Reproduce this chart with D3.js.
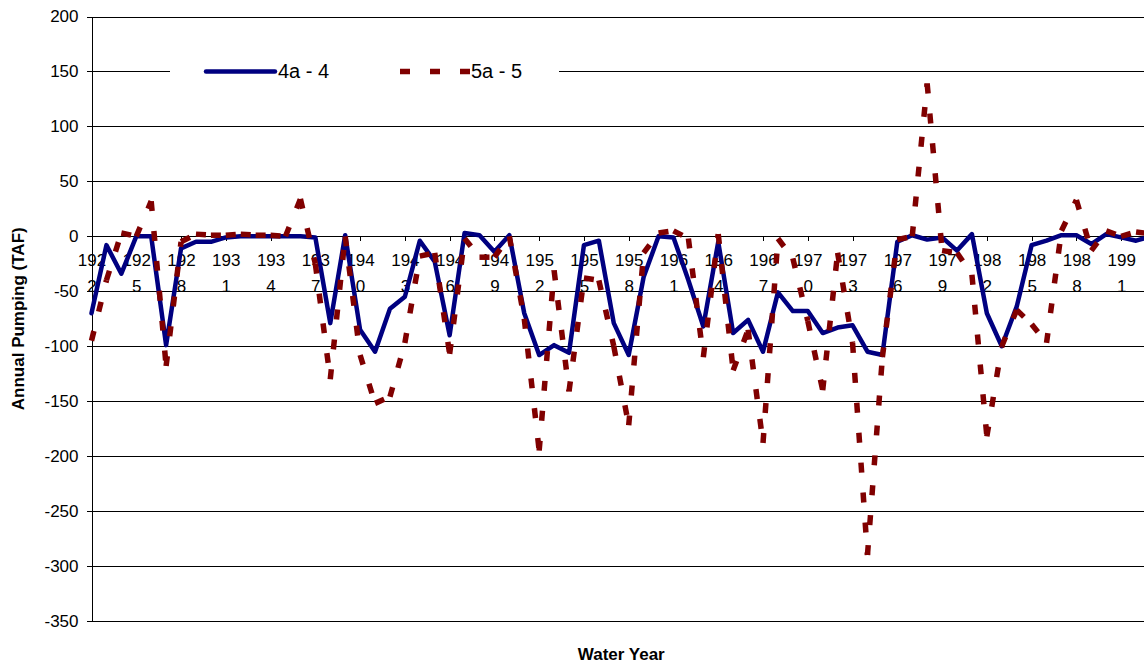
<!DOCTYPE html>
<html>
<head>
<meta charset="utf-8">
<script src="https://cdnjs.cloudflare.com/ajax/libs/d3/7.8.5/d3.min.js"></script>
<style>
  html, body { margin: 0; padding: 0; background: #fff; overflow: hidden; }
  svg { display: block; }
  text { font-family: "Liberation Sans", Arial, sans-serif; fill: #000; }
</style>
</head>
<body>
<svg id="chart" width="1144" height="666"></svg>
<script>
// ---- data ----
const years = [1922,1923,1924,1925,1926,1927,1928,1929,1930,1931,1932,1933,1934,1935,1936,1937,1938,1939,
  1940,1941,1942,1943,1944,1945,1946,1947,1948,1949,1950,1951,1952,1953,1954,1955,1956,1957,1958,1959,
  1960,1961,1962,1963,1964,1965,1966,1967,1968,1969,1970,1971,1972,1973,1974,1975,1976,1977,1978,1979,
  1980,1981,1982,1983,1984,1985,1986,1987,1988,1989,1990,1991,1992,1993];

const pump4a4 = [-70,-8,-34,0,0,-99,-11,-5,-5,-1,0,0,0,0,0,-1,-79,1,
  -85,-105,-66,-55,-4,-23,-90,3,1,-14,1,-70,-108,-99,-106,-8,-4,-79,-108,-37,
  0,-1,-40,-82,-5,-88,-76,-105,-51,-68,-68,-88,-83,-81,-105,-108,-5,1,-3,-1,
  -13,2,-70,-100,-64,-8,-4,1,1,-7,2,-1,-4,0];

const pump5a5 = [-95,-40,3,0,32,-118,-5,2,1,1,2,1,1,0,34,-25,-130,0,
  -108,-152,-146,-97,-18,-15,-107,-2,-19,-19,0,-75,-195,-31,-141,-38,-40,-100,-172,-15,
  3,5,-2,-110,2,-122,-85,-188,-2,-20,-77,-140,-15,-97,-290,-110,-3,0,139,-13,
  -15,-35,-182,-100,-67,-80,-97,5,33,-13,5,0,4,2];

const seriesNames = ["4a - 4", "5a - 5"];
const yTickValues = [-350,-300,-250,-200,-150,-100,-50,0,50,100,150,200];
const xTickYears = [1922,1925,1928,1931,1934,1937,1940,1943,1946,1949,1952,1955,1958,1961,1964,1967,1970,1973,1976,1979,1982,1985,1988,1991];
const yTitle = "Annual Pumping (TAF)";
const xTitle = "Water Year";

// ---- layout ----
const plotL = 91.5, plotR = 1151, plotT = 16.5, plotB = 621;
const svg = d3.select("#chart");

const x = d3.scalePoint().domain(years).range([plotL, plotR]);
const y = d3.scaleLinear().domain([-350, 200]).range([plotB, plotT]);

// gridlines
svg.append("g")
  .attr("transform", `translate(${plotL},0)`)
  .call(d3.axisLeft(y).tickValues(yTickValues).tickSize(-(plotR - plotL)).tickFormat(""))
  .call(g => g.select(".domain").remove())
  .call(g => g.selectAll("line").attr("stroke", "#000").attr("stroke-width", 1).attr("shape-rendering", "crispEdges"));

// y axis
svg.append("g")
  .attr("transform", `translate(${plotL},0)`)
  .call(d3.axisLeft(y).tickValues(yTickValues).tickSize(5).tickSizeOuter(0).tickPadding(8).tickFormat(d => String(d)))
  .call(g => g.select(".domain").attr("stroke", "#000").attr("shape-rendering", "crispEdges"))
  .call(g => g.selectAll("line").attr("stroke", "#000").attr("shape-rendering", "crispEdges"))
  .call(g => g.selectAll("text").attr("font-size", 17).attr("font-family", "Liberation Sans, Arial, sans-serif").attr("fill", "#000"));

// x axis at zero
const xAxis = svg.append("g")
  .attr("transform", `translate(0,${y(0)})`)
  .call(d3.axisBottom(x).tickValues(xTickYears).tickSize(5).tickSizeOuter(0).tickFormat(""))
  .call(g => g.select(".domain").attr("stroke", "#000").attr("shape-rendering", "crispEdges"))
  .call(g => g.selectAll("line").attr("stroke", "#000").attr("shape-rendering", "crispEdges"));

xAxis.selectAll(".tick").each(function(d) {
  const s = String(d);
  const t = d3.select(this).append("text")
    .attr("text-anchor", "middle")
    .attr("font-size", 17)
    .attr("fill", "#000");
  t.append("tspan").attr("x", 0).attr("y", 30).text(s.slice(0, 3));
  t.append("tspan").attr("x", 0).attr("y", 56).text(s.slice(3));
});

// series 4a - 4 (solid navy)
const line = d3.line().x(d => x(d[0])).y(d => y(d[1]));
svg.append("path")
  .datum(d3.zip(years, pump4a4))
  .attr("d", line)
  .attr("fill", "none")
  .attr("stroke", "#000080")
  .attr("stroke-width", 4.5)
  .attr("stroke-linejoin", "round")
  .attr("stroke-linecap", "round");

// series 5a - 5 (dashed maroon, dash pattern restarting each segment)
svg.append("g")
  .selectAll("line")
  .data(d3.pairs(d3.zip(years, pump5a5)))
  .join("line")
  .attr("x1", d => x(d[0][0])).attr("y1", d => y(d[0][1]))
  .attr("x2", d => x(d[1][0])).attr("y2", d => y(d[1][1]))
  .attr("stroke", "#800000")
  .attr("stroke-width", 5.5)
  .attr("stroke-dasharray", "10,20")
  .attr("stroke-linecap", "butt");

// legend
const lg = svg.append("g");
lg.append("rect").attr("x", 170).attr("y", 56).attr("width", 389).attr("height", 30).attr("fill", "#fff");
const ly = y(150);
lg.append("line").attr("x1", 206).attr("x2", 275).attr("y1", ly).attr("y2", ly)
  .attr("stroke", "#000080").attr("stroke-width", 4.5).attr("stroke-linecap", "round");
lg.append("text").attr("x", 278).attr("y", ly).attr("dy", "0.35em").attr("font-size", 20).text(seriesNames[0]);
lg.append("line").attr("x1", 400).attr("x2", 470).attr("y1", ly).attr("y2", ly)
  .attr("stroke", "#800000").attr("stroke-width", 5.5).attr("stroke-dasharray", "10,20");
lg.append("text").attr("x", 471).attr("y", ly).attr("dy", "0.35em").attr("font-size", 20).text(seriesNames[1]);

// axis titles
svg.append("text")
  .attr("transform", `translate(24,${(plotT + plotB) / 2}) rotate(-90)`)
  .attr("text-anchor", "middle")
  .attr("font-size", 17).attr("font-weight", "bold")
  .text(yTitle);
svg.append("text")
  .attr("x", (plotL + plotR) / 2).attr("y", 660)
  .attr("text-anchor", "middle")
  .attr("font-size", 17).attr("font-weight", "bold")
  .text(xTitle);
</script>
</body>
</html>
